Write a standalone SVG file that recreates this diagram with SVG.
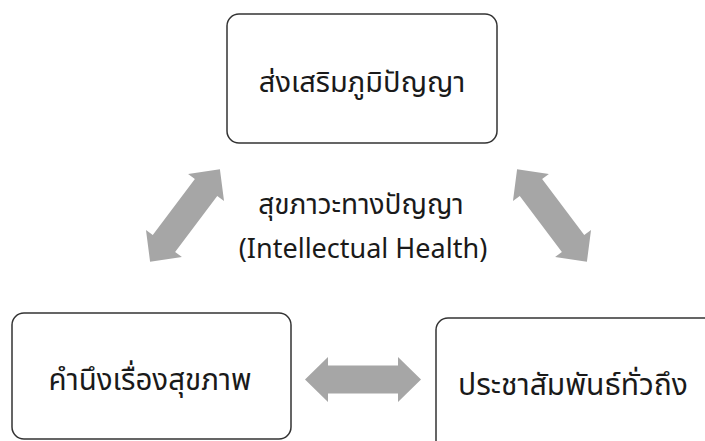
<svg xmlns="http://www.w3.org/2000/svg" width="705" height="441" viewBox="0 0 705 441">
  <style>
    .box { fill: #ffffff; stroke: #333333; stroke-width: 1.5; }
    .label { font-family: "Noto Sans Thai", "Leelawadee UI", Tahoma, "Noto Sans", "DejaVu Sans", sans-serif; fill: #1a1a1a; text-anchor: middle; }
    .arrow { fill: #a6a6a6; }
  </style>
  <defs>
    <!-- double-headed block arrow, 116 long, centred on the origin -->
    <path id="dbl" d="M-58,0 L-35,-22.5 L-35,-14 L35,-14 L35,-22.5 L58,0 L35,22.5 L35,14 L-35,14 L-35,22.5 Z"/>
  </defs>
  <rect width="705" height="441" fill="#ffffff"/>

  <g id="connectors">
    <use href="#dbl" class="arrow" transform="translate(185 215.5) rotate(-53)"/>
    <use href="#dbl" class="arrow" transform="translate(552 215.5) rotate(53)"/>
    <use href="#dbl" class="arrow" transform="translate(363 379.5)"/>
  </g>

  <g id="center-label">
    <text class="label" font-size="28" x="361" y="214">สุขภาวะทางปัญญา</text>
    <text class="label" font-size="27" x="363" y="258">(Intellectual Health)</text>
  </g>

  <g id="node-promote">
    <rect class="box" x="227" y="14" width="270" height="129" rx="12"/>
    <text class="label" font-size="29" x="362" y="92">ส่งเสริมภูมิปัญญา</text>
  </g>

  <g id="node-health">
    <rect class="box" x="12" y="313" width="279" height="126" rx="12"/>
    <text class="label" font-size="29.5" x="150" y="390">คำนึงเรื่องสุขภาพ</text>
  </g>

  <g id="node-publicize">
    <rect class="box" x="436" y="318" width="300" height="140" rx="12"/>
    <text class="label" font-size="30" x="573" y="395">ประชาสัมพันธ์ทั่วถึง</text>
  </g>
</svg>
